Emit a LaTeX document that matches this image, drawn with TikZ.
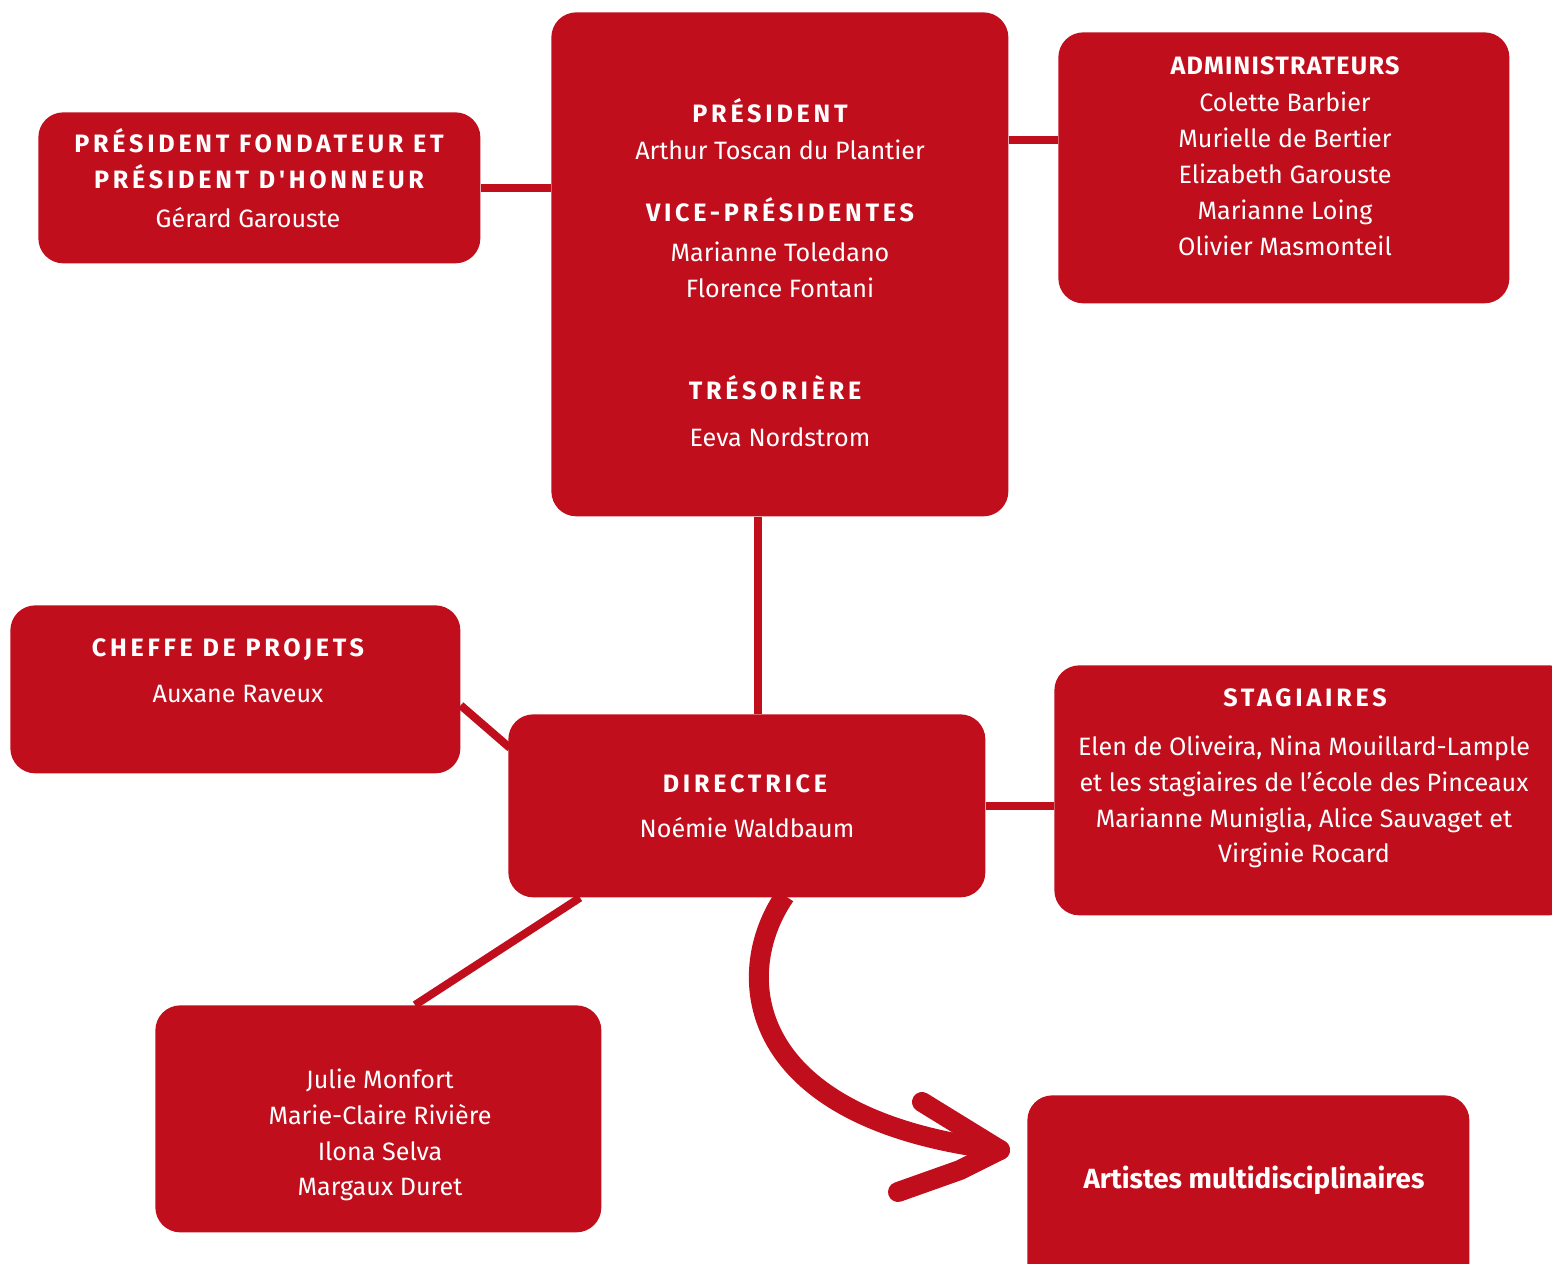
\documentclass[tikz,border=0pt]{standalone}
\usepackage{fontspec}
\setmainfont{Fira Sans}
\newfontfamily\headfont[LetterSpace=15]{Fira Sans}
\newfontfamily\plainhead[LetterSpace=5]{Fira Sans}
\usepackage{xcolor}
\definecolor{brand-red}{RGB}{192,14,29}
\usetikzlibrary{positioning}

\newcommand\pxu{0.02cm}

\begin{document}
\begin{tikzpicture}[
    x=0.02cm, y=-0.02cm,
    org box/.style={
        fill=brand-red,
        rounded corners=25*\pxu,
        inner sep=0pt,
        anchor=north west
    },
    box title/.style={
        font=\headfont\bfseries\fontsize{14.3}{20.4}\selectfont,
        text=white,
        inner sep=0pt,
        align=center
    },
    box plain title/.style={
        font=\plainhead\bfseries\fontsize{14.3}{20.4}\selectfont,
        text=white,
        inner sep=0pt,
        align=center
    },
    box names/.style={
        font=\fontsize{14.3}{20.4}\selectfont,
        text=white,
        inner sep=0pt,
        align=center
    },
    link/.style={draw=brand-red, line width=8*\pxu},
    brush/.style={draw=brand-red, line width=20*\pxu}
]

\useasboundingbox (0,0) rectangle (1552,1264);

% Boxes
\node[org box, minimum width=442*\pxu, minimum height=151*\pxu] (pf) at (38,112) {};
\node[org box, minimum width=457*\pxu, minimum height=504*\pxu] (bureau) at (551,12) {};
\node[org box, minimum width=451*\pxu, minimum height=271*\pxu] (admin) at (1058,32) {};
\node[org box, minimum width=450*\pxu, minimum height=168*\pxu] (cheffe) at (10,605) {};
\node[org box, minimum width=477*\pxu, minimum height=183*\pxu] (dir) at (508,714) {};
\node[org box, minimum width=520*\pxu, minimum height=250*\pxu] (stag) at (1054,665) {};
\node[org box, minimum width=446*\pxu, minimum height=227*\pxu] (equipe) at (155,1005) {};
\node[org box, minimum width=442*\pxu, minimum height=220*\pxu] (artistes) at (1027,1095) {};

% President fondateur
\node[box title] (pf-title) at (259,159) {PRÉSIDENT FONDATEUR ET\\PRÉSIDENT D'HONNEUR};
\node[box names] (pf-names) at (248,218) {Gérard Garouste};

% Bureau
\node[box title] (pres-title) at (770,111) {PRÉSIDENT};
\node[box names] (pres-names) at (780,150) {Arthur Toscan du Plantier};
\node[box title] (vp-title) at (780,210) {VICE-PRÉSIDENTES};
\node[box names] (vp-names) at (780,270) {Marianne Toledano\\Florence Fontani};
\node[box title] (tres-title) at (775,388) {TRÉSORIÈRE};
\node[box names] (tres-names) at (780,437) {Eeva Nordstrom};

% Administrateurs
\node[box plain title] (admin-title) at (1285,66) {ADMINISTRATEURS};
\node[box names] (admin-names) at (1285,174) {Colette Barbier\\Murielle de Bertier\\Elizabeth Garouste\\Marianne Loing\\Olivier Masmonteil};

% Cheffe de projets
\node[box title] (cheffe-title) at (228,650) {CHEFFE DE PROJETS};
\node[box names] (cheffe-names) at (238,694) {Auxane Raveux};

% Directrice
\node[box title] (dir-title) at (745,784) {DIRECTRICE};
\node[box names] (dir-names) at (747,828) {Noémie Waldbaum};

% Stagiaires
\node[box title] (stag-title) at (1305,698) {STAGIAIRES};
\node[box names] (stag-names) at (1304,802) {Elen de Oliveira, Nina Mouillard-Lample\\et les stagiaires de l’école des Pinceaux\\Marianne Muniglia, Alice Sauvaget et\\Virginie Rocard};

% Equipe
\node[box names] (equipe-names) at (380,1135) {Julie Monfort\\Marie-Claire Rivière\\Ilona Selva\\Margaux Duret};

% Artistes
\node[font=\bfseries\fontsize{15.8}{20}\selectfont, text=white, inner sep=0pt] (artistes-title) at (1254,1180) {Artistes multidisciplinaires};

% Connectors
\draw[link] (pf.east) -- (pf.east -| bureau.west);
\draw[link] ([shift={(0,128)}]bureau.north east) -- ([shift={(0,108)}]admin.north west);
\draw[link] ([shift={(-22,0)}]bureau.south) -- ([shift={(-22,0)}]bureau.south |- dir.north);
\draw[link] ([shift={(0,16)}]cheffe.east) -- ([shift={(2,34)}]dir.north west);
\draw[link] (dir.east) -- (dir.east -| stag.west);
\draw[link] ([shift={(72,0)}]dir.south west) -- ([shift={(260,0)}]equipe.north west);

% Brush arrow to the artists
\coordinate (tip) at ([shift={(-27,55)}]artistes.north west);
\draw[brush] ([shift={(38,-2)}]dir.south) .. controls +(-55,80) and +(-255,-30) .. (tip);
\draw[brush, line cap=round] (tip) -- +(-78,-48);
\draw[brush, line cap=round] (tip) -- +(-40,20) -- +(-102,42);

\end{tikzpicture}
\end{document}
